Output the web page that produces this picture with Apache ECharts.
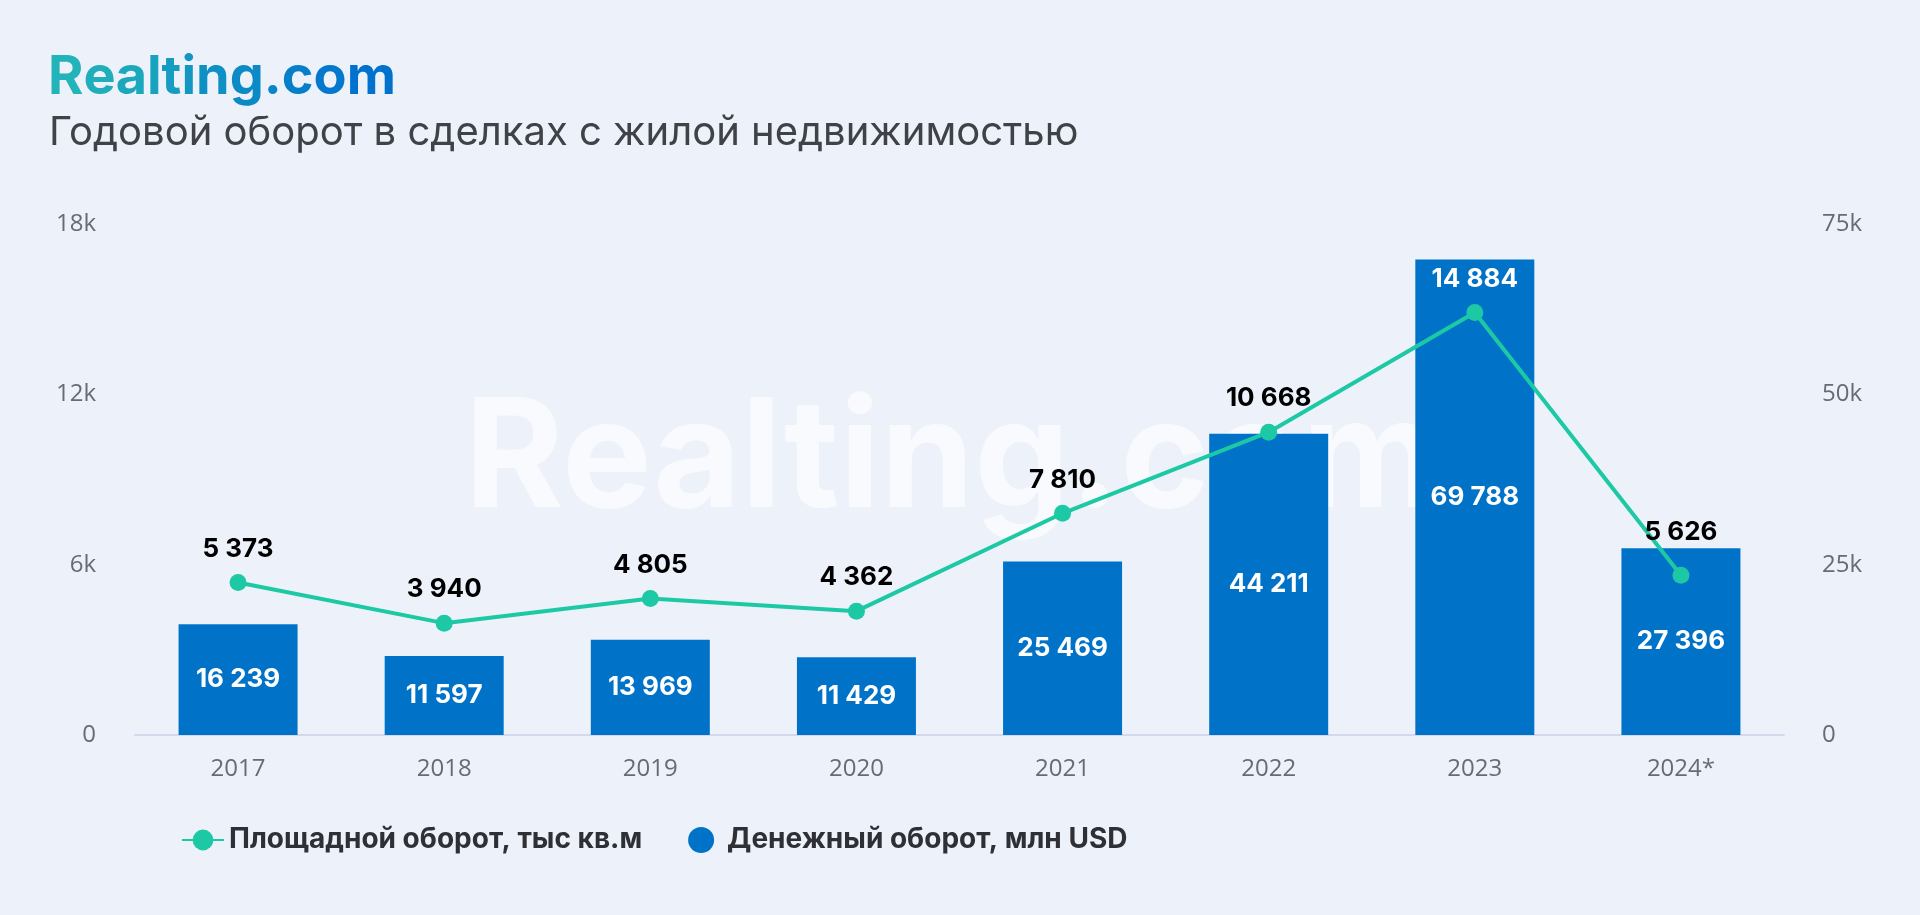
<!DOCTYPE html>
<html>
<head>
<meta charset="utf-8">
<script src="https://cdn.jsdelivr.net/npm/echarts@6/dist/echarts.min.js"></script>
<style>
html,body{margin:0;padding:0;background:#EDF2FA;}
#chart{width:1920px;height:915px;}
</style>
</head>
<body>
<div id="chart"></div>
<script>
const categories = ['2017','2018','2019','2020','2021','2022','2023','2024*'];
const areaTurnover = [5373, 3940, 4805, 4362, 7810, 10668, 14884, 5626];
const moneyTurnover = [16239, 11597, 13969, 11429, 25469, 44211, 69788, 27396];
const seriesNames = ['Площадной оборот, тыс кв.м', 'Денежный оборот, млн USD'];
const brand = 'Realting.com';
const subtitle = 'Годовой оборот в сделках с жилой недвижимостью';

const fmt = v => String(v).replace(/\B(?=(\d{3})+(?!\d))/g, ' ');
const kfmt = v => v === 0 ? '0' : (v / 1000) + 'k';

const chart = echarts.init(document.getElementById('chart'));
const FONT = 'Inter, "Noto Sans", sans-serif';

// gradient brand text via per-character rich styles
const c0 = [0x22, 0xB4, 0xB8], c1 = [0x00, 0x72, 0xCE];
const brandRich = {};
let brandText = '';
brand.split('').forEach((ch, i) => {
  const t = i / (brand.length - 1);
  const col = 'rgb(' + c0.map((a, k) => Math.round(a + (c1[k] - a) * t)).join(',') + ')';
  brandRich['c' + i] = { fill: col, fontSize: 54, fontWeight: 'bold', fontFamily: FONT };
  brandText += '{c' + i + '|' + ch + '}';
});

const lineData = areaTurnover.map((v, i) => {
  const item = { value: v };
  if (i === 6) item.label = { color: '#ffffff' };
  if (i === 7) item.label = { distance: 22 };
  return item;
});

chart.setOption({
  backgroundColor: '#EDF2FA',
  animation: false,
  graphic: [
    {
      type: 'text', left: 48, top: 51, z: 100,
      style: { text: brandText, rich: brandRich, fontSize: 54, fontWeight: 'bold', fontFamily: FONT, fill: '#0A8FC4' }
    },
    {
      type: 'text', left: 49, top: 113, z: 100,
      style: { text: subtitle, fontSize: 40, fontFamily: FONT, fill: '#3F4246' }
    },
    {
      type: 'text', z: -1, x: 952, y: 462,
      style: {
        text: brand, fontSize: 151, fontWeight: 'bold', fontFamily: FONT,
        fill: 'rgba(255,255,255,0.6)', align: 'center', verticalAlign: 'middle'
      }
    }
  ],
  legend: {
    left: 176, top: 821,
    itemWidth: 42, itemHeight: 26, itemGap: 46,
    textStyle: { fontSize: 28, fontWeight: 'bold', fontFamily: FONT, color: '#2E3035' },
    data: [
      { name: seriesNames[0] },
      { name: seriesNames[1], icon: 'circle' }
    ]
  },
  grid: { left: 135, right: 136, top: 224, bottom: 180 },
  xAxis: {
    type: 'category', data: categories,
    axisLine: { lineStyle: { color: '#D3D8EC', width: 2 } },
    axisTick: { show: false },
    axisLabel: { fontSize: 24, color: '#676B72', fontFamily: '"Open Sans", sans-serif', margin: 22 }
  },
  yAxis: [
    {
      type: 'value', min: 0, max: 18000, interval: 6000,
      splitLine: { show: false }, axisLine: { show: false },
      axisLabel: { fontSize: 24, color: '#676B72', fontFamily: '"Open Sans", sans-serif', margin: 39, formatter: kfmt }
    },
    {
      type: 'value', min: 0, max: 75000, interval: 25000,
      splitLine: { show: false }, axisLine: { show: false },
      axisLabel: { fontSize: 24, color: '#676B72', fontFamily: '"Open Sans", sans-serif', margin: 38, formatter: kfmt }
    }
  ],
  series: [
    {
      name: seriesNames[1], type: 'bar', yAxisIndex: 1, data: moneyTurnover,
      barWidth: 119, z: 2,
      itemStyle: { color: '#0073C8' },
      label: { show: true, position: 'inside', color: '#ffffff', fontSize: 26, fontWeight: 'bold', fontFamily: FONT, formatter: p => fmt(p.value) }
    },
    {
      name: seriesNames[0], type: 'line', yAxisIndex: 0, data: lineData,
      z: 3,
      symbol: 'circle', symbolSize: 17,
      lineStyle: { color: '#1DC9A4', width: 4 },
      itemStyle: { color: '#1DC9A4' },
      label: { show: true, position: 'top', distance: 12, color: '#000000', fontSize: 26, fontWeight: 'bold', fontFamily: FONT, formatter: p => fmt(p.value) }
    }
  ]
});
</script>
</body>
</html>
